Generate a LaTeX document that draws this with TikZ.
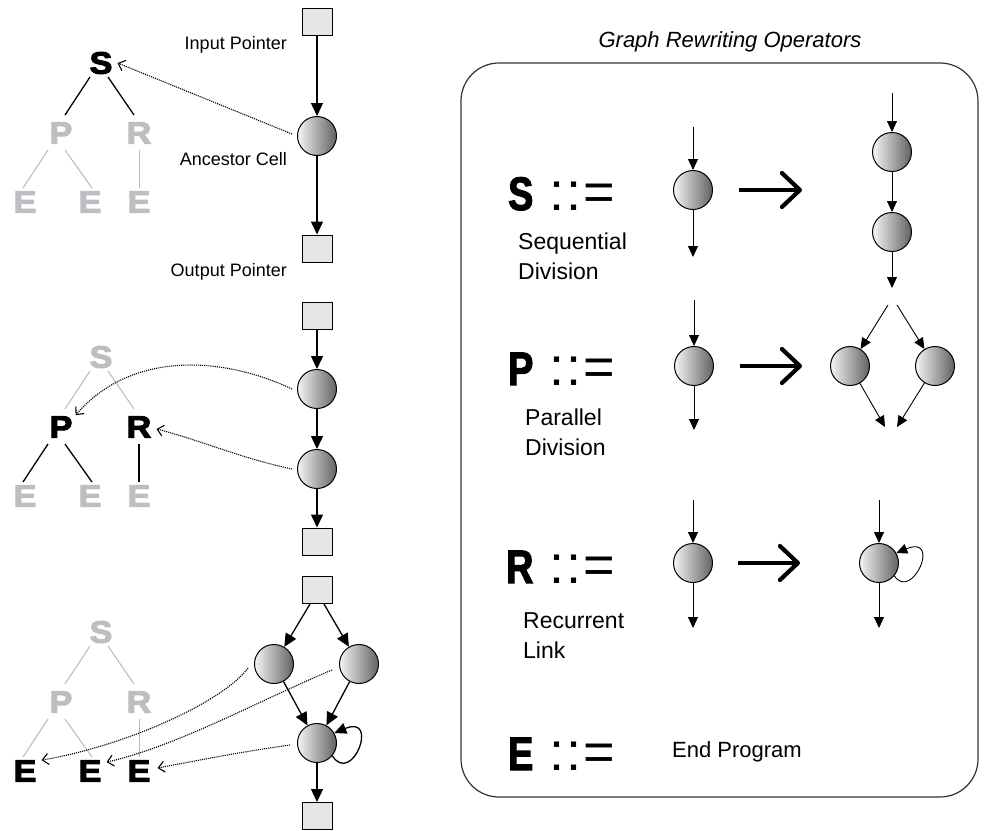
\documentclass[tikz,border=0pt]{standalone}
\usepackage{fontspec}
\setmainfont{Liberation Sans}
\newfontfamily\treefont{Liberation Sans Bold}[FakeBold=3.5, FakeStretch=1.1]
\newfontfamily\opfont{Liberation Sans Bold}[FakeStretch=0.8, FakeBold=2.5]
\usetikzlibrary{arrows.meta, calc}

\definecolor{treegray}{RGB}{188,190,193}
\definecolor{edgegray}{RGB}{185,185,185}
\definecolor{boxline}{RGB}{50,50,50}

\tikzset{
  cell/.style={circle, draw, line width=1pt, minimum size=39pt, inner sep=0pt,
    left color=black!4, right color=black!62},
  ptr/.style={rectangle, draw, line width=1pt, fill=black!10,
    minimum width=30pt, minimum height=27pt, inner sep=0pt},
  flow/.style={line width=1.3pt, -{Triangle[length=13pt,width=12pt]}},
  rflow/.style={line width=0.9pt, -{Triangle[length=11pt,width=10pt]}},
  link/.style={line width=1.1pt, dash pattern=on 1.1pt off 1pt,
    -{Straight Barb[length=6pt,width=11pt,line width=1.1pt]}},
  bigarrow/.style={line width=4.2pt, -{Straight Barb[length=18pt,width=34pt,round]}},
  tlet/.style={inner sep=0pt, font=\treefont\fontsize{31}{31}\selectfont},
  olet/.style={inner sep=0pt, anchor=base west, font=\opfont\fontsize{47}{47}\selectfont},
  defsym/.style={inner sep=0pt, anchor=base west, font=\fontsize{54}{54}\selectfont},
  lbl/.style={inner sep=0pt, anchor=base east, font=\fontsize{18}{21}\selectfont},
  rlbl/.style={inner sep=0pt, anchor=north west, align=left, font=\fontsize{23}{30}\selectfont},
  upedge/.style={line width=1.3pt, black},
  faintedge/.style={line width=1pt, edgegray},
}

% genotype tree: #1 prefix, #2 y of root, #3 root colour, #4 middle colour,
% #5 leaf colour, #6 upper edge style, #7 lower edge style
\newcommand\gptree[7]{%
  \node[tlet, text=#3] (#1S) at (101,#2) {S};
  \node[tlet, text=#4] (#1P) at (61,{#2+70}) {P};
  \node[tlet, text=#4] (#1R) at (139,{#2+70}) {R};
  \node[tlet, text=#5] (#1E1) at (25,{#2+139}) {E};
  \node[tlet, text=#5] (#1E2) at (90,{#2+139}) {E};
  \node[tlet, text=#5] (#1E3) at (139,{#2+139}) {E};
  \draw[#6] ($(#1S)+(-11,14)$) -- ($(#1P)+(4,-18)$);
  \draw[#6] ($(#1S)+(7,14)$) -- ($(#1R)+(-5,-18)$);
  \draw[#7] ($(#1P)+(-13,17)$) -- ($(#1E1)+(-2,-14)$);
  \draw[#7] ($(#1P)+(4,17)$) -- ($(#1E2)+(2,-14)$);
  \draw[#7] ($(#1R)+(0,17)$) -- ($(#1E3)+(0,-14)$);
}

\begin{document}
\begin{tikzpicture}[x=1pt, y=-1pt]
\useasboundingbox (0,0) rectangle (992,830);

% ---------- step 1: single ancestor cell ----------
\gptree{a}{63}{black}{treegray}{treegray}{upedge}{faintedge}
\node[ptr] (ip1) at (317,21.5) {};
\node[cell] (c1) at (317,136) {};
\node[ptr] (op1) at (317,248.5) {};
\draw[flow] (ip1) -- (c1);
\draw[flow] (c1) -- (op1);
\node[lbl] (lin) at (287,49) {Input Pointer};
\node[lbl] (lanc) at (287,165) {Ancestor Cell};
\node[lbl] (lout) at (287,276) {Output Pointer};
\draw[link] ($(c1.west)+(-5,-2)$) -- ($(aS.east)+(5,0)$);

% ---------- step 2: after sequential division ----------
\gptree{b}{357}{treegray}{black}{treegray}{faintedge}{upedge}
\node[ptr] (ip2) at (317,315.5) {};
\node[cell] (c2a) at (317,389) {};
\node[cell] (c2b) at (317,469) {};
\node[ptr] (op2) at (317,541.5) {};
\draw[flow] (ip2) -- (c2a);
\draw[flow] (c2a) -- (c2b);
\draw[flow] (c2b) -- (op2);
\draw[link] ($(c2a.west)+(-5,0)$) .. controls (220,355) and (130,352) .. ($(bP.north east)+(3,-1)$);
\draw[link] ($(c2b.west)+(-5,0)$) .. controls (240,458) and (200,440) .. ($(bR.east)+(5,2)$);

% ---------- step 3: after parallel division and recurrent link ----------
\gptree{c}{632}{treegray}{treegray}{black}{faintedge}{faintedge}
\node[ptr] (ip3) at (317,590) {};
\node[cell] (c3l) at (274,664) {};
\node[cell] (c3r) at (359,664) {};
\node[cell] (c3m) at (317,743) {};
\node[ptr] (op3) at (317,816) {};
\draw[flow] ($(ip3.south)+(-7,0)$) -- (c3l);
\draw[flow] ($(ip3.south)+(7,0)$) -- (c3r);
\draw[flow] (c3l) -- (c3m);
\draw[flow] (c3r) -- (c3m);
\draw[flow] (c3m) -- (op3);
\draw[line width=1.3pt, -{Triangle[length=12pt,width=11pt]}]
  (c3m.-40) .. controls (352,786) and (380,714) .. (c3m.30);
\draw[link] ($(c3l.west)+(-6,4)$) .. controls (225,700) and (130,745) .. ($(cE1.north east)+(5,0)$);
\draw[link] ($(c3r.west)+(-7,6)$) .. controls (260,700) and (180,745) .. ($(cE2.north east)+(5,2)$);
\draw[link] ($(c3m.west)+(-7,2)$) .. controls (240,752) and (200,760) .. ($(cE3.east)+(7,-3)$);

% ---------- operator panel ----------
\node[inner sep=0pt, anchor=base, font=\fontsize{22}{26}\selectfont\itshape] (title) at (730,47) {Graph Rewriting Operators};
\draw[line width=1.2pt, boxline, rounded corners=38pt] (461,63) rectangle (978,797);

% S : sequential division
\node[olet] (opS) at (508,210) {S};
\node[defsym] (defS) at (549,210) {:\kern2pt:\kern2pt=};
\node[rlbl] (txtS) at (518,233) {Sequential\\Division};
\coordinate (sIn) at (693,127);
\node[cell] (sA) at (693,190) {};
\coordinate (sOut) at (693,257);
\draw[rflow] (sIn) -- (sA);
\draw[rflow] (sA) -- (sOut);
\coordinate (sArrA) at (739,190);
\coordinate (sArrB) at (802,190);
\draw[bigarrow] (sArrA) -- (sArrB);
\coordinate (sIn2) at (892,93);
\node[cell] (sB1) at (892,152) {};
\node[cell] (sB2) at (892,232) {};
\coordinate (sOut2) at (892,288);
\draw[rflow] (sIn2) -- (sB1);
\draw[rflow] (sB1) -- (sB2);
\draw[rflow] (sB2) -- (sOut2);

% P : parallel division
\node[olet] (opP) at (508,385) {P};
\node[defsym] (defP) at (549,385) {:\kern2pt:\kern2pt=};
\node[rlbl] (txtP) at (525,409) {Parallel\\Division};
\coordinate (pIn) at (694,300);
\node[cell] (pA) at (694,366) {};
\coordinate (pOut) at (694,430);
\draw[rflow] (pIn) -- (pA);
\draw[rflow] (pA) -- (pOut);
\coordinate (pArrA) at (740,366);
\coordinate (pArrB) at (802,366);
\draw[bigarrow] (pArrA) -- (pArrB);
\node[cell] (pB1) at (850,366) {};
\node[cell] (pB2) at (935,366) {};
\coordinate (pSplitL) at (888,305);
\coordinate (pSplitR) at (897,305);
\coordinate (pJoinL) at (885,427);
\coordinate (pJoinR) at (897,427);
\draw[rflow] (pSplitL) -- (pB1);
\draw[rflow] (pSplitR) -- (pB2);
\draw[rflow] (pB1) -- (pJoinL);
\draw[rflow] (pB2) -- (pJoinR);

% R : recurrent link
\node[olet] (opR) at (506,583) {R};
\node[defsym] (defR) at (549,583) {:\kern2pt:\kern2pt=};
\node[rlbl] (txtR) at (523,612) {Recurrent\\Link};
\coordinate (rIn) at (693,500);
\node[cell] (rA) at (693,563) {};
\coordinate (rOut) at (693,628);
\draw[rflow] (rIn) -- (rA);
\draw[rflow] (rA) -- (rOut);
\coordinate (rArrA) at (738,563);
\coordinate (rArrB) at (800,563);
\draw[bigarrow] (rArrA) -- (rArrB);
\coordinate (rIn2) at (879,500);
\node[cell] (rB) at (879,563) {};
\coordinate (rOut2) at (879,628);
\draw[rflow] (rIn2) -- (rB);
\draw[rflow] (rB) -- (rOut2);
\draw[rflow] (rB.-40) .. controls (912,602) and (942,534) .. (rB.30);

% E : end program
\node[olet] (opE) at (508,770) {E};
\node[defsym] (defE) at (549,770) {:\kern2pt:\kern2pt=};
\node[inner sep=0pt, anchor=base west, font=\fontsize{22}{26}\selectfont] (txtE) at (672,757) {End Program};
\end{tikzpicture}
\end{document}
